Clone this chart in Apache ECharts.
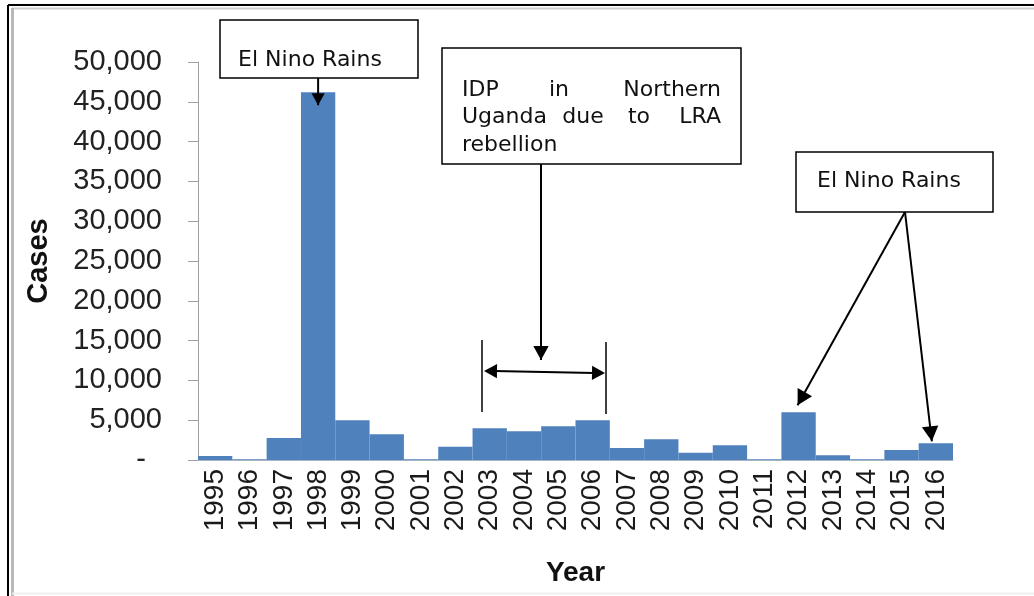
<!DOCTYPE html>
<html>
<head>
<meta charset="utf-8">
<script src="https://cdn.jsdelivr.net/npm/echarts@6/dist/echarts.min.js"></script>
<style>
  html, body { margin: 0; padding: 0; background: #fff; }
  #chart { width: 1034px; height: 596px; }
</style>
</head>
<body>
<div id="chart"></div>
<script>
// years on the x axis
const YEARS = ['1995', '1996', '1997', '1998', '1999', '2000', '2001', '2002', '2003', '2004', '2005',
  '2006', '2007', '2008', '2009', '2010', '2011', '2012', '2013', '2014', '2015', '2016'];

// cases per year
const CASES = [500, 100, 2750, 46200, 5000, 3250, 100, 1650, 4000, 3600, 4250,
  5000, 1500, 2600, 900, 1850, 100, 6000, 600, 100, 1250, 2100];

const Y_MAX = 50000;
const Y_STEP = 5000;

const chart = echarts.init(document.getElementById('chart'));

const option = {
  animation: false,
  backgroundColor: '#fff',
  grid: { left: 198, right: 81, top: 62, bottom: 136 },
  xAxis: {
    type: 'category',
    data: YEARS,
    name: 'Year',
    nameLocation: 'middle',
    nameGap: 99,
    nameTextStyle: { fontFamily: 'Liberation Sans', fontSize: 28, color: '#111', fontWeight: 'bold' },
    axisLine: { lineStyle: { color: '#a9b4c2', width: 1 } },
    axisTick: { length: 8, lineStyle: { color: '#a0a0a0' } },
    axisLabel: {
      rotate: 90, margin: 9, fontFamily: 'Liberation Sans', fontSize: 28, color: '#1a1a1a', interval: 0
    }
  },
  yAxis: {
    type: 'value',
    min: 0,
    max: Y_MAX,
    interval: Y_STEP,
    name: 'Cases',
    nameLocation: 'middle',
    nameGap: 145,
    nameRotate: 90,
    nameTextStyle: { fontFamily: 'Liberation Sans', fontSize: 29, color: '#111', fontWeight: 'bold' },
    axisLine: { show: true, lineStyle: { color: '#a0a0a0' } },
    axisTick: { show: true, length: 10, lineStyle: { color: '#a0a0a0' } },
    splitLine: { show: false },
    axisLabel: {
      margin: 36, fontFamily: 'Liberation Sans', fontSize: 29, color: '#222',
      formatter: v => v === 0 ? '-  ' : v.toLocaleString('en-US')
    }
  },
  series: [{
    type: 'bar',
    data: CASES,
    barCategoryGap: '0%',
    itemStyle: { color: '#4f81bd' }
  }]
};

chart.setOption(option);

// annotations: arrows point at the bars through the chart's own scales
const px = (year, v) => chart.convertToPixel({ seriesIndex: 0 }, [YEARS.indexOf(year), v]);

const boxStyle = { fill: '#fff', stroke: '#000', lineWidth: 1.5 };
const lineStyle = { stroke: '#000', lineWidth: 2 };
const textFont = '22px "DejaVu Sans", sans-serif';

function arrowHead(x1, y1, x2, y2, size) {
  const a = Math.atan2(y2 - y1, x2 - x1);
  const w = size * 0.55;
  return {
    type: 'polygon',
    z: 100,
    shape: { points: [
      [x2, y2],
      [x2 - size * Math.cos(a) + w * Math.sin(a), y2 - size * Math.sin(a) - w * Math.cos(a)],
      [x2 - size * Math.cos(a) - w * Math.sin(a), y2 - size * Math.sin(a) + w * Math.cos(a)]
    ] },
    style: { fill: '#000' }
  };
}

function arrow(x1, y1, x2, y2, size) {
  return [
    { type: 'line', z: 100, shape: { x1, y1, x2, y2 }, style: lineStyle },
    arrowHead(x1, y1, x2, y2, size || 14)
  ];
}

function label(x, y, text, align) {
  return {
    type: 'text', z: 100,
    style: { x, y, text, font: textFont, fill: '#111', align: align || 'left', verticalAlign: 'middle' }
  };
}

const p1998 = px('1998', CASES[3]);
const p2012 = px('2012', CASES[17]);
const p2016 = px('2016', CASES[21]);

const graphics = [
  // frame
  { type: 'line', shape: { x1: 8, y1: 5, x2: 1034, y2: 5 }, style: { stroke: '#000', lineWidth: 2 } },
  { type: 'line', shape: { x1: 8, y1: 5, x2: 8, y2: 596 }, style: { stroke: '#000', lineWidth: 2 } },
  { type: 'line', shape: { x1: 12, y1: 8.5, x2: 1034, y2: 8.5 }, style: { stroke: '#cfcfcf', lineWidth: 2 } },
  { type: 'line', shape: { x1: 12.5, y1: 8, x2: 12.5, y2: 596 }, style: { stroke: '#b8b8b8', lineWidth: 3 } },
  { type: 'line', shape: { x1: 12, y1: 593.5, x2: 1034, y2: 593.5 }, style: { stroke: '#f0f0f0', lineWidth: 2 } },

  // El Nino box 1
  { type: 'rect', z: 100, shape: { x: 220, y: 20, width: 198, height: 58 }, style: boxStyle },
  label(310, 60, 'El Nino Rains', 'center'),
  ...arrow(p1998[0], 78, p1998[0], p1998[1] + 13, 12),

  // IDP box
  { type: 'rect', z: 100, shape: { x: 442, y: 48, width: 299, height: 116 }, style: boxStyle },
  label(462, 90, 'IDP'), label(559, 90, 'in', 'center'), label(721, 90, 'Northern', 'right'),
  label(462, 117, 'Uganda'), label(583, 117, 'due', 'center'), label(639, 117, 'to', 'center'),
  label(721, 117, 'LRA', 'right'),
  label(462, 145, 'rebellion'),
  ...arrow(541, 164, 541, 360, 14),
  { type: 'line', z: 100, shape: { x1: 482, y1: 340, x2: 482, y2: 412 }, style: { stroke: '#000', lineWidth: 1.5 } },
  { type: 'line', z: 100, shape: { x1: 606, y1: 342, x2: 606, y2: 414 }, style: { stroke: '#000', lineWidth: 1.5 } },
  { type: 'line', z: 100, shape: { x1: 494, y1: 371, x2: 594, y2: 373 }, style: lineStyle },
  arrowHead(606, 373, 484, 371, 13),
  arrowHead(484, 371, 605, 373, 13),

  // El Nino box 2
  { type: 'rect', z: 100, shape: { x: 796, y: 152, width: 197, height: 60 }, style: boxStyle },
  label(889, 181, 'El Nino Rains', 'center'),
  ...arrow(905, 212, p2012[0] - 1, p2012[1] - 7, 15),
  ...arrow(905, 212, p2016[0] - 4, p2016[1] - 2, 15)
];

chart.setOption({ graphic: { elements: graphics } });
</script>
</body>
</html>
